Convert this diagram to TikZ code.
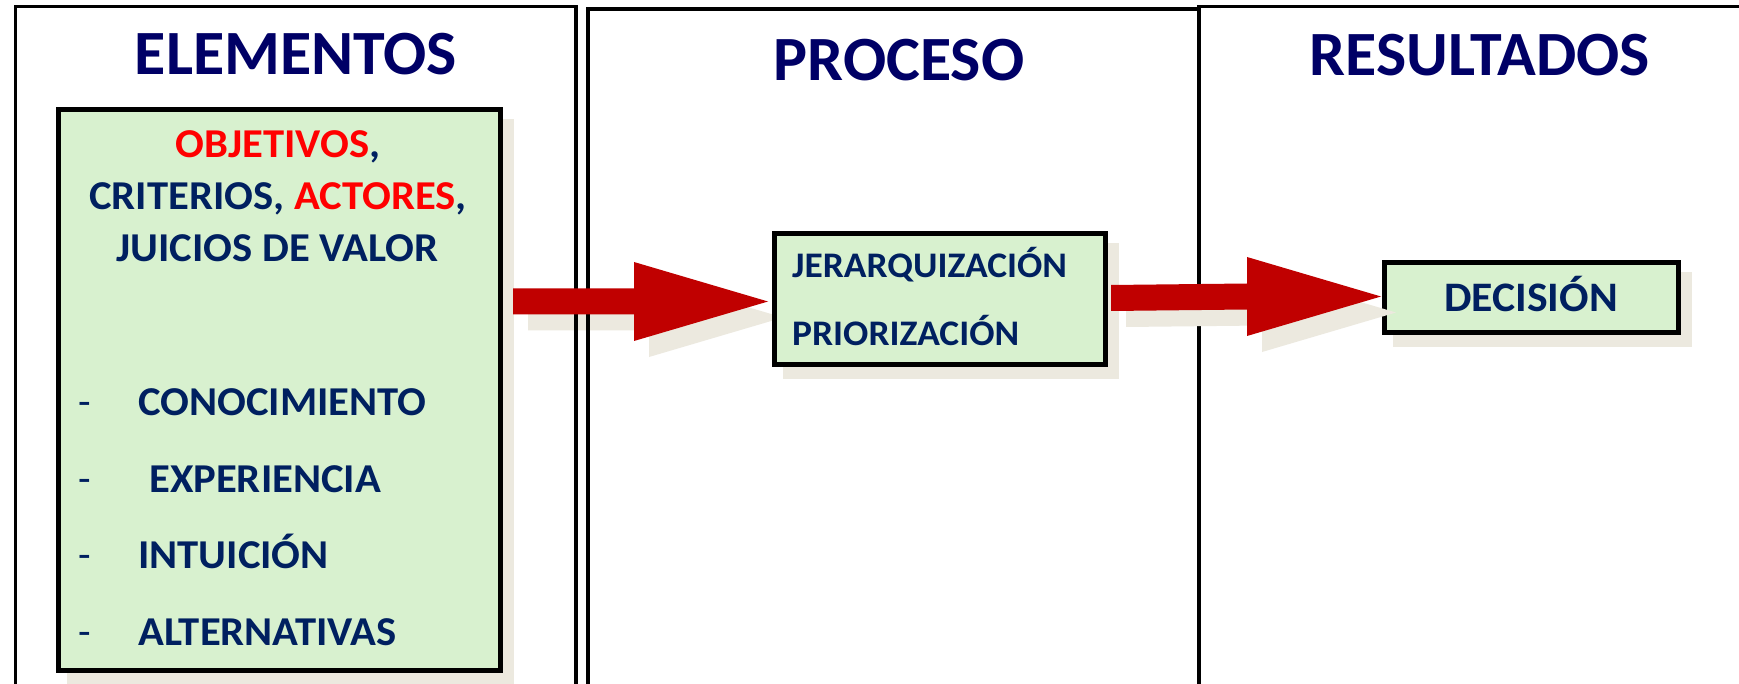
\documentclass[tikz,border=0pt]{standalone}
\usepackage{fontspec}
\setmainfont{Carlito}
\newfontfamily\boxfont{Carlito}[FakeStretch=1.04]
\newfontfamily\titlefont{Carlito}[FakeStretch=1.015]
\usetikzlibrary{calc}
\definecolor{titleblue}{HTML}{000066}
\definecolor{textblue}{HTML}{002060}
\definecolor{redtxt}{HTML}{FF0000}
\definecolor{arrowred}{HTML}{C00000}
\definecolor{boxgreen}{HTML}{D8F1CF}
\definecolor{shadowc}{HTML}{ECE9DF}
\pgfdeclarelayer{back}
\pgfdeclarelayer{shade}
\pgfdeclarelayer{panels}
\pgfsetlayers{back,shade,panels,main}
% #1 start, #2 tip, #3 style, #4 dx, #5 dy
\newcommand\fatarrow[5]{%
  \fill[#3] ($(#1)+(#4,#5-13)$) -- ($(#2)+(#4-134,#5-13)$) -- ($(#2)+(#4-134,#5-39.5)$)
    -- ($(#2)+(#4,#5)$) -- ($(#2)+(#4-134,#5+39.5)$) -- ($(#2)+(#4-134,#5+13)$)
    -- ($(#1)+(#4,#5+13)$) -- cycle;}
\begin{document}
\begin{tikzpicture}[x=1pt,y=-1pt,
  panel/.style={draw=black,line width=3.5pt},
  gbox/.style={draw=black,line width=5pt,fill=boxgreen,inner sep=0pt},
  title/.style={text=titleblue,font=\titlefont\fontsize{63}{70}\selectfont\bfseries,inner sep=0pt,anchor=base},
  btext/.style={text=textblue,font=\boxfont\fontsize{41}{48}\selectfont\bfseries,inner sep=0pt},
  dashtext/.style={text=textblue,font=\fontsize{41}{48}\selectfont,inner sep=0pt,anchor=base west},
  ptext/.style={text=textblue,font=\boxfont\fontsize{36}{42}\selectfont\bfseries,inner sep=0pt,anchor=base west},
  shadowfill/.style={fill=shadowc},
  arrowfill/.style={fill=arrowred}
]
\useasboundingbox (0,0) rectangle (1739,684);
\clip (0,0) rectangle (1739,684);
\begin{pgfonlayer}{back}
  \fill[white] (0,0) rectangle (1739,684);
\end{pgfonlayer}

% panels
\begin{pgfonlayer}{panels}
  \draw[panel] (15.5,6.3) rectangle (576,720);
  \draw[panel] (588,9) rectangle (1199,720);
  \draw[panel] (1199,6.3) rectangle (1760,720);
\end{pgfonlayer}

% titles
\node[title] (t1) at (296,75) {ELEMENTOS};
\node[title] (t2) at (899,81) {PROCESO};
\node[title] (t3) at (1480,76) {RESULTADOS};

% boxes
\node[gbox,minimum width=442,minimum height=561] (box1) at (279,390) {};
\node[gbox,minimum width=331,minimum height=131] (box2) at (940,299) {};
\node[gbox,minimum width=294,minimum height=70] (box3) at (1531.5,297.5) {};

\begin{pgfonlayer}{shade}
  \foreach \b in {box1,box2,box3}
    \fill[shadowfill] ($(\b.north west)+(11,12)$) rectangle ($(\b.south east)+(11,12)$);
\end{pgfonlayer}

% box 1 text
\node[btext,anchor=base] (l1) at (278,158) {\textcolor{redtxt}{OBJETIVOS},};
\node[btext,anchor=base] (l2) at (278,210) {CRITERIOS, \textcolor{redtxt}{ACTORES},};
\node[btext,anchor=base] (l3) at (277.5,262) {JUICIOS DE VALOR};

\node[dashtext] (d1) at (78,415) {-};
\node[btext,anchor=base west] (i1) at (138,415) {CONOCIMIENTO};
\node[dashtext] (d2) at (78,492) {-};
\node[btext,anchor=base west] (i2) at (149,492) {EXPERIENCIA};
\node[dashtext] (d3) at (78,568) {-};
\node[btext,anchor=base west] (i3) at (138,568) {INTUICIÓN};
\node[dashtext] (d4) at (78,645) {-};
\node[btext,anchor=base west] (i4) at (138,645) {ALTERNATIVAS};

% box 2 text
\node[ptext] (p1) at (792,278) {JERARQUIZACIÓN};
\node[ptext] (p2) at (792,345) {PRIORIZACIÓN};

% box 3 text
\node[btext,anchor=base,font=\boxfont\fontsize{42}{48}\selectfont\bfseries] (dec) at (1531,312) {DECISIÓN};

% arrows
\coordinate (a1s) at ($(box1.east |- box2.west)+(10.5,2.5)$);
\coordinate (a1t) at ($(box2.west)+(-4,2.5)$);
\coordinate (a2s) at ($(box2.east)+(3,-1)$);
\coordinate (a2t) at ($(box3.west)+(-1,-1)$);

\begin{pgfonlayer}{shade}
  \fatarrow{a1s}{a1t}{shadowfill}{15}{16}
\end{pgfonlayer}
\fatarrow{a2s}{a2t}{shadowfill}{15}{16}
\fatarrow{a1s}{a1t}{arrowfill}{0}{0}
\fatarrow{a2s}{a2t}{arrowfill}{0}{0}
\end{tikzpicture}
\end{document}
